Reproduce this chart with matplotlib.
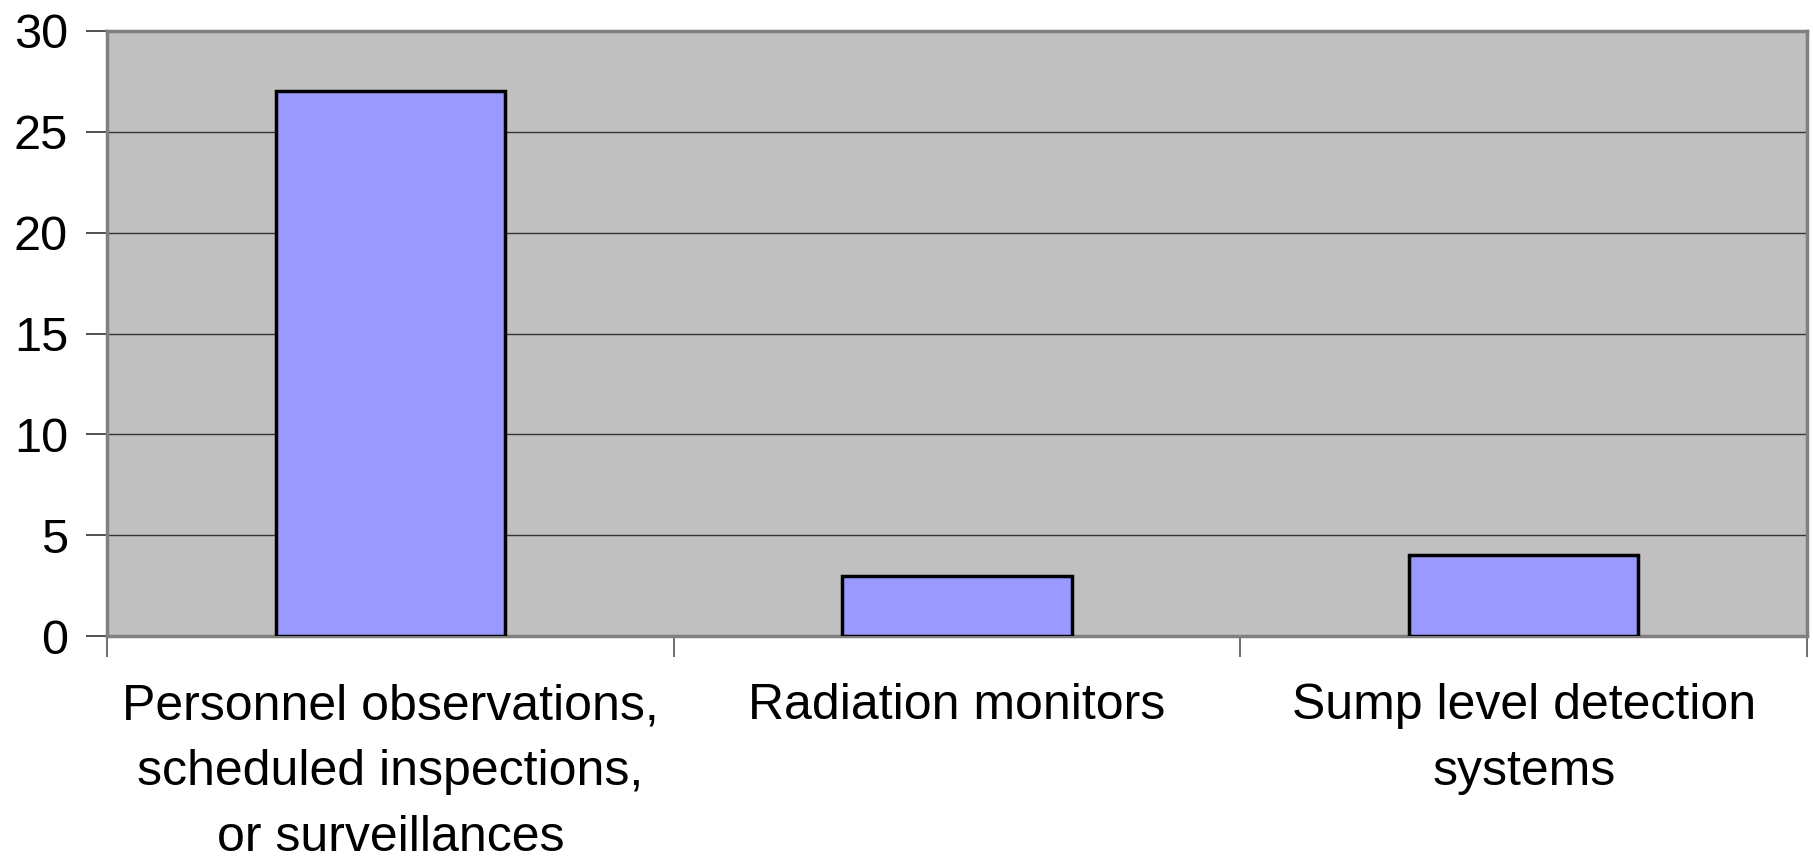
import numpy as np
import matplotlib.pyplot as plt

categories = [
    "Personnel observations,\nscheduled inspections,\nor surveillances",
    "Radiation monitors",
    "Sump level detection\nsystems",
]
counts = [27, 3, 4]
y_ticks = [0, 5, 10, 15, 20, 25, 30]

plt.rcParams['font.family'] = ['Liberation Sans', 'DejaVu Sans']

fig = plt.figure(figsize=(18.13, 8.61), dpi=100)
ax = fig.add_axes([0.059, 0.2613, 0.9377, 0.7027])

x = np.arange(len(categories))
ax.bar(x, counts, width=0.405, color="#9999FF", edgecolor="black",
       linewidth=2.5, zorder=3)

ax.set_facecolor("#C0C0C0")
ax.set_xlim(-0.5, len(categories) - 0.5)
ax.set_ylim(0, 30)
ax.set_yticks(y_ticks)
ax.grid(axis="y", color="#333333", linewidth=1.0, zorder=1)

# category boundaries get the tick marks, centers get the labels
ax.set_xticks(np.arange(-0.5, len(categories)), labels=[""] * (len(categories) + 1))
ax.set_xticks(x, labels=categories, minor=True)
ax.tick_params(axis="x", which="major", length=15, width=1.2, color="#555555",
               direction="out")
ax.tick_params(axis="x", which="minor", length=0, pad=34, labelsize=36)
ax.tick_params(axis="y", length=15, width=1.2, color="#333333",
               direction="out", pad=13, labelsize=35)
for lab in ax.get_xticklabels(minor=True):
    lab.set_linespacing(1.55)
    lab.set_verticalalignment("top")

for side in ["left", "bottom", "top", "right"]:
    ax.spines[side].set_color("#808080")
    ax.spines[side].set_linewidth(2.5)

fig.savefig("out.png", dpi=100)
